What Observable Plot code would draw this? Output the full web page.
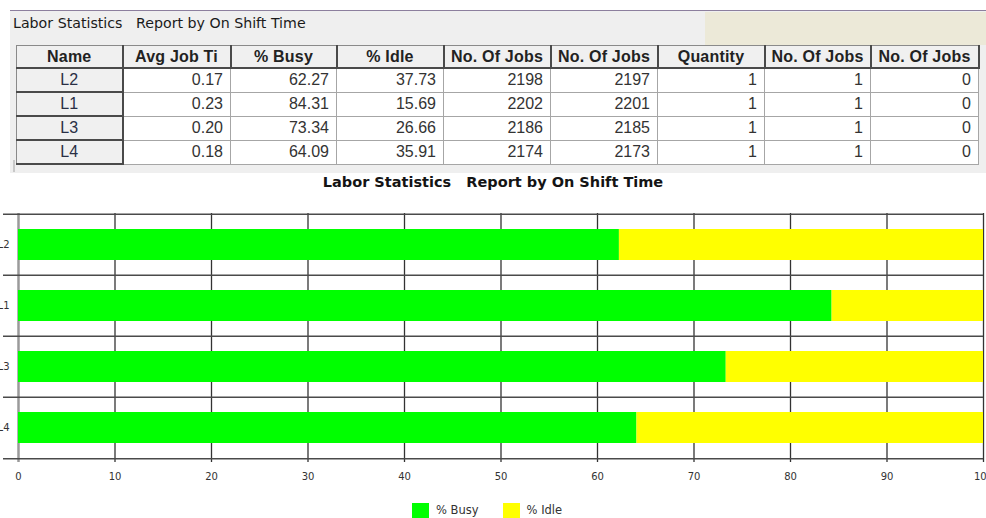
<!DOCTYPE html>
<html>
<head>
<meta charset="utf-8">
<script src="https://cdn.jsdelivr.net/npm/d3@7"></script>
<script src="https://cdn.jsdelivr.net/npm/@observablehq/plot@0.6"></script>
<style>
html, body { margin: 0; padding: 0; background: #fff; width: 986px; height: 518px; overflow: hidden; }
#panel { position: absolute; left: 10px; top: 10px; width: 976px; height: 162px; background: #efefef; border-top: 1px solid #8c7f9e; }
#beige { position: absolute; left: 695px; top: 1px; right: 0; height: 33px; background: #ece9d8; }
#ptitle { position: absolute; left: 3px; top: 4px; font: 14.2px/16px "DejaVu Sans"; white-space: pre; color: #1a1a1a; }
#tborder { position: absolute; left: 13px; top: 160px; width: 2px; height: 12px; background: #c8c8c8; }
table { position: absolute; left: 16px; top: 45px; border-collapse: collapse; table-layout: fixed; width: 962px; }
th, td { padding: 0; overflow: hidden; white-space: nowrap; }
th, td.rh { background: #f0f0f0; border: 1px solid #8a8a8a; border-right: 2px solid #4a4a4a; border-bottom: 2px solid #4a4a4a; text-align: center; }
th { font: bold 16px "Liberation Sans"; color: #222; height: 21px; letter-spacing: 0.2px; }
td { font: 16px "Liberation Sans"; color: #333; height: 22px; }
td.v { background: #fff; border: 1px solid #a6a6a6; text-align: right; padding-right: 7px; }
td.rh { font-weight: normal; color: #2a2f45; }
#ctitle { position: absolute; left: 0; top: 174px; width: 986px; text-align: center; font: bold 14.5px/17px "DejaVu Sans"; white-space: pre; color: #141414; }
#chart { position: absolute; left: 0; top: 190px; }
#legend { position: absolute; top: 503px; left: 412px; display: flex; align-items: center; font: 11.5px/15px "DejaVu Sans"; color: #333; white-space: pre; }
#legend .sw { width: 17px; height: 15px; margin-right: 7px; }
#legend .lab { margin-right: 24px; }
</style>
</head>
<body>
<div id="panel">
  <div id="beige"></div>
  <div id="ptitle"></div>
</div>
<div id="tborder"></div>
<table id="tbl"></table>
<div id="ctitle"></div>
<div id="chart"></div>
<div id="legend"></div>
<script>
// ---- data ----
const reportTitle = "Labor Statistics   Report by On Shift Time";
const columns = ["Name", "Avg Job Ti", "% Busy", "% Idle", "No. Of Jobs", "No. Of Jobs", "Quantity", "No. Of Jobs", "No. Of Jobs"];
const columnWidths = [106, 108, 106, 107, 107, 107, 107, 106, 108];
const names = ["L2", "L1", "L3", "L4"];
const avgJobTime = ["0.17", "0.23", "0.20", "0.18"];
const busy = [62.27, 84.31, 73.34, 64.09];
const idle = [37.73, 15.69, 26.66, 35.91];
const jobsA = [2198, 2202, 2186, 2174];
const jobsB = [2197, 2201, 2185, 2173];
const quantity = [1, 1, 1, 1];
const jobsC = [1, 1, 1, 1];
const jobsD = [0, 0, 0, 0];
const series = ["% Busy", "% Idle"];
const seriesColors = ["#00ff00", "#ffff00"];
const xTicks = [0, 10, 20, 30, 40, 50, 60, 70, 80, 90, 100];

// ---- texts ----
document.getElementById("ptitle").textContent = reportTitle;
document.getElementById("ctitle").textContent = reportTitle;

// ---- table ----
const tbl = document.getElementById("tbl");
const cg = document.createElement("colgroup");
columnWidths.forEach(w => { const c = document.createElement("col"); c.style.width = w + "px"; cg.appendChild(c); });
tbl.appendChild(cg);
const htr = document.createElement("tr");
columns.forEach(h => { const th = document.createElement("th"); th.textContent = h; htr.appendChild(th); });
tbl.appendChild(htr);
names.forEach((n, i) => {
  const tr = document.createElement("tr");
  const rh = document.createElement("td"); rh.className = "rh"; rh.textContent = n; tr.appendChild(rh);
  [avgJobTime[i], busy[i].toFixed(2), idle[i].toFixed(2), jobsA[i], jobsB[i], quantity[i], jobsC[i], jobsD[i]].forEach(v => {
    const td = document.createElement("td"); td.className = "v"; td.textContent = v; tr.appendChild(td);
  });
  tbl.appendChild(tr);
});

// ---- chart ----
const long = names.flatMap((n, i) => [
  {name: n, series: series[0], value: busy[i]},
  {name: n, series: series[1], value: idle[i]}
]);
const W = 986, H = 300, mt = 23, mb = 31, ml = 18, mr = 3;
const step = (H - mt - mb) / names.length;
const chart = Plot.plot({
  width: W, height: H,
  marginTop: mt, marginBottom: mb, marginLeft: ml, marginRight: mr,
  style: {fontFamily: "DejaVu Sans", fontSize: "10px", color: "#333", background: "transparent"},
  x: {domain: [0, 100]},
  y: {type: "band", domain: names, paddingInner: 0.5, paddingOuter: 0.25},
  color: {domain: series, range: seriesColors},
  marks: [
    Plot.ruleX(xTicks.slice(1), {stroke: "#333", strokeWidth: 1.3, insetBottom: -3}),
    Plot.ruleX([xTicks[0]], {stroke: "#9a9a9a", strokeWidth: 2.5, insetBottom: -3}),
    Plot.ruleY(names, {y: d => d, dy: -step / 2, stroke: "#4a4a4a", strokeWidth: 1.3, insetLeft: -15}),
    Plot.ruleY(names.slice(-1), {y: d => d, dy: step / 2, stroke: "#4a4a4a", strokeWidth: 1.3, insetLeft: -15}),
    Plot.barX(long, Plot.stackX({x: "value", y: "name", fill: "series"})),
    Plot.axisX(xTicks, {tickSize: 0, tickPadding: 13, label: null, fontSize: 10}),
    Plot.axisY({tickSize: 0, tickPadding: 9, label: null, fontSize: 10})
  ]
});
document.getElementById("chart").appendChild(chart);

// ---- legend ----
const leg = document.getElementById("legend");
series.forEach((s, i) => {
  const sw = document.createElement("div"); sw.className = "sw"; sw.style.background = seriesColors[i]; leg.appendChild(sw);
  const lab = document.createElement("div"); lab.className = "lab"; lab.textContent = s; leg.appendChild(lab);
});
</script>
</body>
</html>
